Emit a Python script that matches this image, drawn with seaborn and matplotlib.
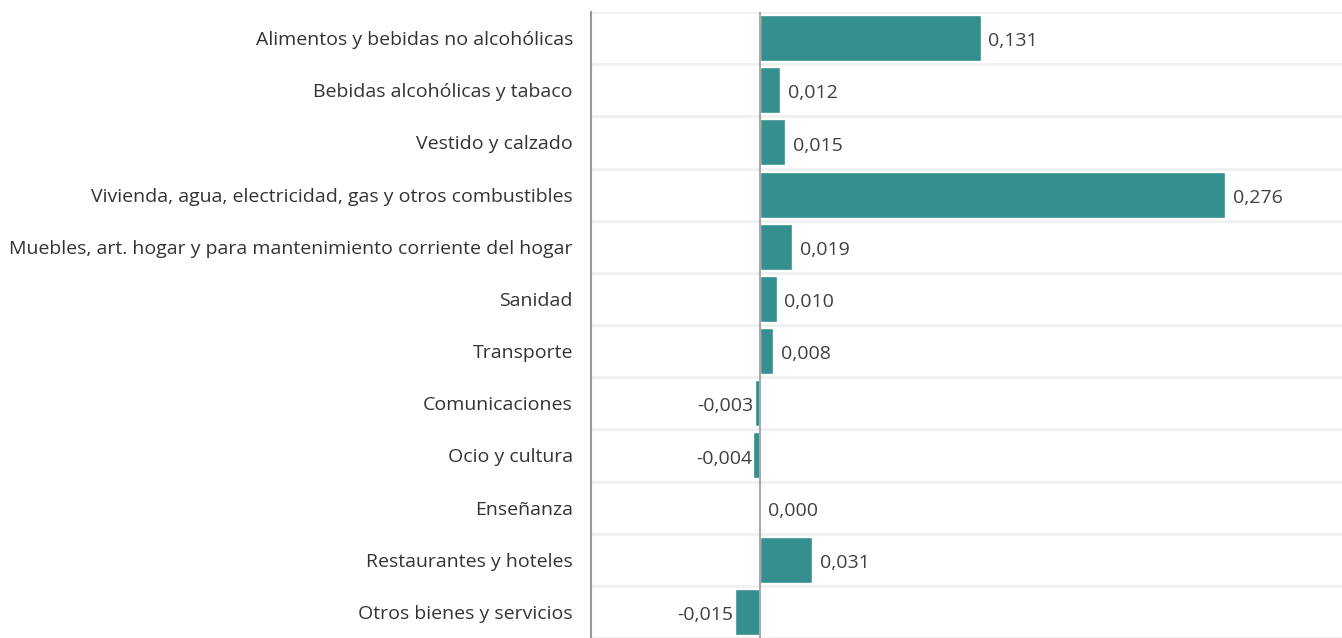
import pandas as pd
import numpy as np
import seaborn as sns
import matplotlib.pyplot as plt

categorias = ['Alimentos y bebidas no alcohólicas', 'Bebidas alcohólicas y tabaco',
              'Vestido y calzado', 'Vivienda, agua, electricidad, gas y otros combustibles',
              'Muebles, art. hogar y para mantenimiento corriente del hogar', 'Sanidad',
              'Transporte', 'Comunicaciones', 'Ocio y cultura', 'Enseñanza',
              'Restaurantes y hoteles', 'Otros bienes y servicios']
valores = [0.131, 0.012, 0.015, 0.276, 0.019, 0.010, 0.008, -0.003, -0.004, 0.000, 0.031, -0.015]

df = pd.DataFrame({'Grupo': categorias, 'Valor': valores})

sns.set_style('white')
plt.rcParams['font.family'] = ['Open Sans', 'DejaVu Sans']

fig = plt.figure(figsize=(13.42, 6.38), dpi=100)
ax = fig.add_axes([591 / 1342, 0, 751 / 1342, 626 / 638])

sns.barplot(data=df, x='Valor', y='Grupo', orient='h', color='#358f8f',
            saturation=1, width=0.88, ax=ax)

# etiquetas de valor con coma decimal
for i, v in enumerate(valores):
    txt = f'{v:.3f}'.replace('.', ',')
    if v < 0:
        ax.text(v - 0.0008, i + 0.06, txt, va='center', ha='right', fontsize=14, color='#404040')
    else:
        ax.text(v + 0.0045, i + 0.06, txt, va='center', ha='left', fontsize=14, color='#404040')

for k in range(len(categorias) + 1):
    ax.axhline(k - 0.5, color='#f0f0f0', lw=2, zorder=0)

ax.axvline(0, color='#a8a8a8', lw=1.5, zorder=3)
ax.set_xlim(-0.1003, 0.3454)
ax.set_ylim(len(categorias) - 0.5, -0.5)
ax.set_xticks([])
ax.set_xlabel('')
ax.set_ylabel('')
ax.tick_params(axis='y', length=0, pad=13, labelsize=14, labelcolor='#333333')
for s in ['top', 'right', 'bottom']:
    ax.spines[s].set_visible(False)
ax.spines['left'].set_color('#999999')
ax.spines['left'].set_linewidth(1.5)

fig.savefig('out.png', dpi=100)
